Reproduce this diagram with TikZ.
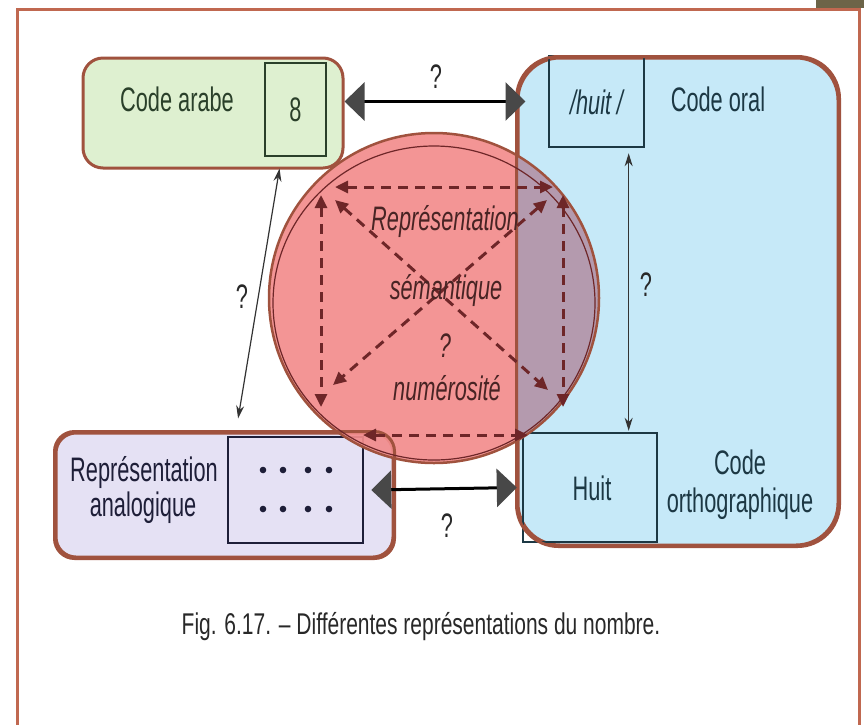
\documentclass[tikz,border=0pt]{standalone}
\usepackage{fontspec}
\setmainfont{Liberation Sans}[FakeStretch=0.64]
\newfontfamily\capfont{Liberation Sans}[FakeStretch=0.7]
\usetikzlibrary{arrows.meta,calc}

\definecolor{framecol}{RGB}{192,104,80}
\definecolor{cornerpatch}{RGB}{108,100,72}
\definecolor{edgebrown}{RGB}{160,82,62}
\definecolor{greenfill}{RGB}{222,240,208}
\definecolor{bluefill}{RGB}{198,233,248}
\definecolor{lilacfill}{RGB}{229,225,244}
\definecolor{semred}{RGB}{242,140,140}
\definecolor{semmauve}{RGB}{180,154,174}
\definecolor{dashcol}{RGB}{110,38,40}
\definecolor{semtext}{RGB}{72,36,36}
\definecolor{tipgrey}{RGB}{72,72,72}
\definecolor{greenink}{RGB}{42,64,42}
\definecolor{blueink}{RGB}{28,56,68}
\definecolor{navyink}{RGB}{30,30,56}
\definecolor{captionink}{RGB}{40,40,40}

\begin{document}
\begin{tikzpicture}[x=1pt,y=-1pt,
  lab/.style={font=\fontsize{34}{36}\selectfont, inner sep=0pt, anchor=base},
  semlab/.style={lab, font=\fontsize{34}{36}\selectfont\itshape, text=semtext},
  outerbox/.style={draw=edgebrown, line width=3pt, rounded corners=20pt, inner sep=0pt},
  innerbox/.style={draw, line width=2.5pt, inner sep=0pt},
  bigarrow/.style={line width=3pt, black,
    arrows={Triangle[length=20pt,width=38pt,color=tipgrey]-Triangle[length=20pt,width=38pt,color=tipgrey]}},
  thinarrow/.style={line width=1.2pt, black!80,
    arrows={Stealth[length=13pt,width=8pt]-Stealth[length=13pt,width=8pt]}},
  dasharrow/.style={line width=3pt, dashcol, dash pattern=on 10pt off 7pt,
    arrows={Triangle[length=13pt,width=12pt]-Triangle[length=13pt,width=12pt]}}
]
\useasboundingbox (0,0) rectangle (864,724);

% page frame
\fill[cornerpatch] (816,0) rectangle (864,7.5);
\draw[framecol, line width=3pt] (17,730) -- (17,9) -- (859,9) -- (859,730);

% coloured boxes
\node[outerbox, fill=bluefill, rounded corners=42pt, minimum width=320pt, minimum height=487pt] (codes) at (678,301.5) {};
\node[outerbox, fill=greenfill, minimum width=260pt, minimum height=110pt] (arabe) at (213,113) {};
\node[outerbox, fill=lilacfill, minimum width=337pt, minimum height=124pt] (analog) at (224.5,495) {};

% inner frames
\node[innerbox, draw=greenink, minimum width=61pt, minimum height=93pt] (digit) at (295.5,109.5) {};
\node[innerbox, draw=blueink, minimum width=95pt, minimum height=91pt] (phon) at (596.5,101.5) {};
\node[innerbox, draw=blueink, minimum width=134pt, minimum height=109pt] (word) at (590,487.5) {};
\node[innerbox, draw=navyink, minimum width=135pt, minimum height=106pt] (dots) at (295.5,490) {};
\foreach \x in {263,283,308,329}
  \foreach \y in {470,509}
    \fill[navyink] (\x,\y) circle[radius=3.3pt];

% semantic representation disc
\node[circle, minimum size=330pt, inner sep=0pt] (sem) at (434,298) {};
\fill[semred, opacity=0.92] (sem.center) circle[radius=165pt];
\begin{scope}
  \clip (codes.north west) rectangle (codes.south east);
  \fill[semmauve] (sem.center) circle[radius=165pt];
\end{scope}
\draw[edgebrown, line width=3pt, rounded corners=42pt] (codes.north west) rectangle (codes.south east);
\draw[edgebrown, line width=3pt, rounded corners=20pt] (analog.north west) rectangle (analog.south east);
\draw[edgebrown, line width=2.5pt] (sem.center) circle[radius=165pt];
\draw[dashcol, line width=1.2pt] ($(sem.center)+(0,5)$) ellipse[x radius=161pt, y radius=157pt];

% dashed relations inside the disc
\coordinate (tA) at (335,187);
\coordinate (tB) at (553,187);
\coordinate (bA) at (363,435);
\coordinate (bB) at (528,435);
\coordinate (lA) at (321,195);
\coordinate (lB) at (321,407);
\coordinate (rA) at (563,195);
\coordinate (rB) at (563,407);
\coordinate (dA) at (335,200);
\coordinate (dB) at (548,390);
\coordinate (eA) at (547,200);
\coordinate (eB) at (333,385);
\draw[dasharrow] (tA) -- (tB);
\draw[dasharrow] (bA) -- (bB);
\draw[dasharrow] (lA) -- (lB);
\draw[dasharrow] (rA) -- (rB);
\draw[dasharrow] (dA) -- (dB);
\draw[dasharrow] (eA) -- (eB);

% labels
\node[lab, text=greenink] (arabetxt) at (177,111) {Code arabe};
\node[lab, text=greenink] (eight) at (295.5,121) {8};
\node[lab, text=blueink, font=\fontsize{34}{36}\selectfont\itshape] (phontxt) at (596.5,114) {/huit\,/};
\node[lab, text=blueink] (oraltxt) at (718,111) {Code oral};
\node[lab, text=blueink] (wordtxt) at (592,500) {Huit};
\node[lab, text=blueink] (orthoA) at (740,474) {Code};
\node[lab, text=blueink] (orthoB) at (740,512) {orthographique};
\node[lab, text=navyink] (analogA) at (144,481) {Représentation};
\node[lab, text=navyink] (analogB) at (143,516) {analogique};

\node[semlab] (semA) at (445,230) {Représentation};
\node[semlab] (semB) at (446,299) {sémantique};
\node[semlab] (semC) at (445,357) {?};
\node[semlab] (semD) at (447,400) {numérosité};

% links between the codes
\draw[bigarrow] (arabe.east |- phon) -- ($(codes.west |- phon)+(9,0)$);
\draw[bigarrow] ($(dots.east)+(7,0)$) -- ($(word.west)+(-5,0)$);
\draw[thinarrow] ($(arabe.south west)!0.753!(arabe.south east)+(0,-1)$) -- ($(analog.north west)!0.54!(analog.north east)+(0,-13)$);
\coordinate (vtop) at ($(phon.south west)!0.83!(phon.south east)+(0,5)$);
\draw[thinarrow] (vtop) -- ($(vtop |- word.north)+(0,-1)$);

\node[lab, text=captionink] (qtop) at (436,88) {?};
\node[lab, text=captionink] (qleft) at (242,308) {?};
\node[lab, text=captionink] (qright) at (646,296) {?};
\node[lab, text=captionink] (qbottom) at (447,537) {?};

% caption
\node[lab, text=captionink, font=\capfont\fontsize{30}{32}\selectfont] (caption) at (421,634)
  {Fig. 6.17. – Différentes représentations du nombre.};
\end{tikzpicture}
\end{document}
